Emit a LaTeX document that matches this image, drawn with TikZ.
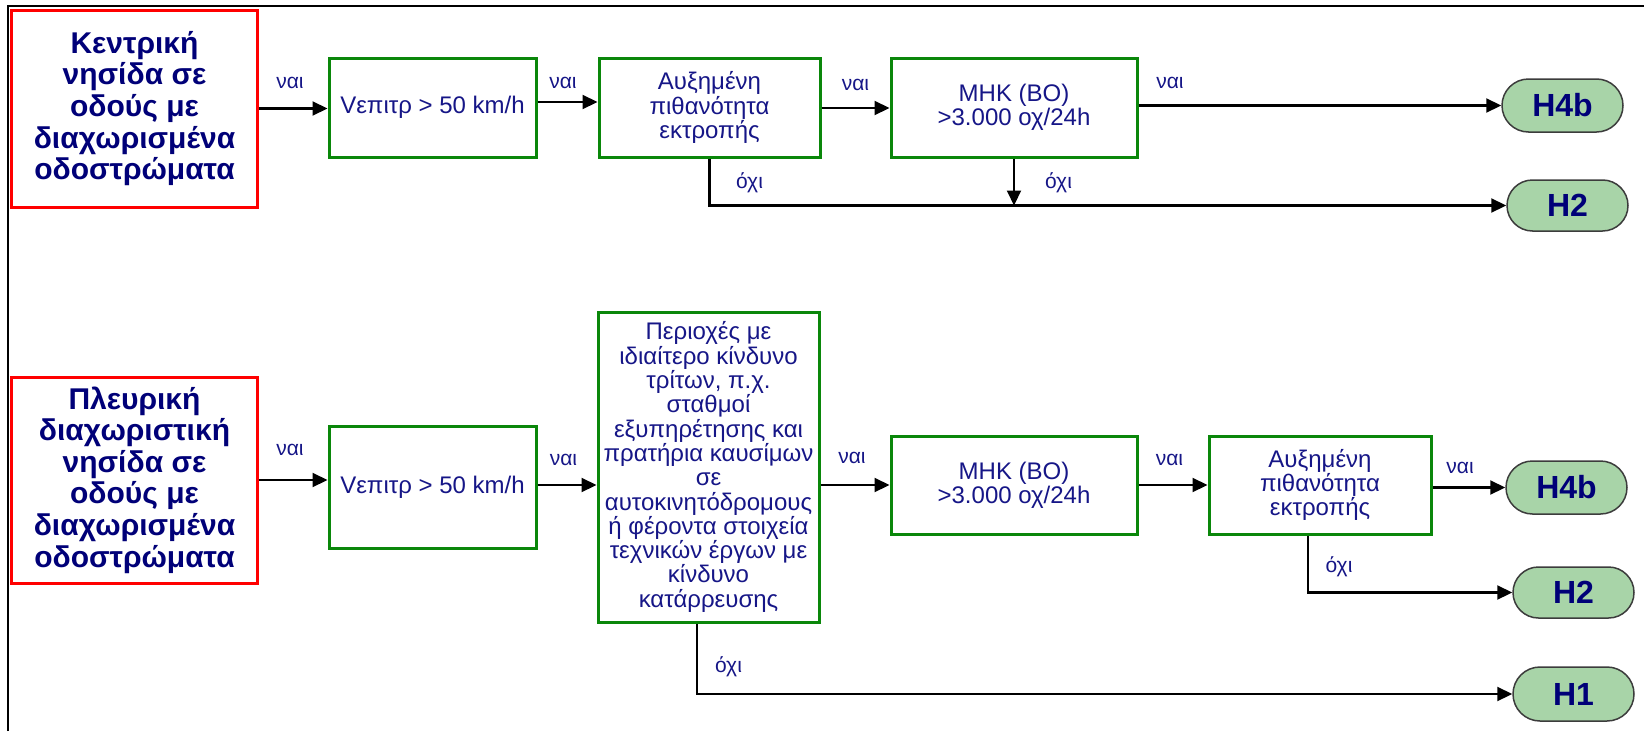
\documentclass[tikz,border=0pt]{standalone}
\usepackage{fontspec}
\setmainfont{Liberation Sans}
\usetikzlibrary{arrows.meta,shapes.misc}

\definecolor{txtblue}{RGB}{22,22,135}
\definecolor{titleblue}{RGB}{0,0,120}
\definecolor{boxgreen}{RGB}{10,135,10}
\definecolor{boxred}{RGB}{255,0,0}
\definecolor{termfill}{RGB}{168,212,168}
\definecolor{termline}{RGB}{60,60,60}

\tikzset{
  titlebox/.style={draw=boxred, line width=3pt, fill=white, inner sep=0pt,
    align=center, text=titleblue,
    font=\fontsize{30pt}{31.6pt}\selectfont\bfseries},
  decbox/.style={draw=boxgreen, line width=3pt, fill=white, inner sep=0pt,
    align=center, text=txtblue, font=\fontsize{24pt}{24.3pt}\selectfont},
  term/.style={rounded rectangle, draw=termline, line width=1.5pt, fill=termfill,
    inner sep=0pt, minimum width=121pt, text=titleblue,
    font=\fontsize{32pt}{34pt}\selectfont\bfseries},
  lbl/.style={inner sep=0pt, text=txtblue, font=\fontsize{21pt}{22pt}\selectfont},
  arr/.style={line width=2.1pt, -{Triangle[length=15pt,width=14pt]}}
}

\begin{document}
\begin{tikzpicture}[x=1pt, y=-1pt]
\useasboundingbox (0,0) rectangle (1644,731);

% page frame (top and left edges)
\draw[line width=2pt] (8,731) -- (8,6) -- (1644,6);

% ---------- upper flow ----------
\node[titlebox, minimum width=245.5pt, minimum height=197pt] (red1) at (134.5,108.5)
  {Κεντρική\\νησίδα σε\\οδούς με\\διαχωρισμένα\\οδοστρώματα};
\node[decbox, minimum width=207pt, minimum height=99pt] (v1) at (432.5,107.5)
  {Vεπιτρ > 50 km/h};
\node[decbox, minimum width=221pt, minimum height=99pt] (aux1) at (709.5,107.5)
  {Αυξημένη\\πιθανότητα\\εκτροπής};
\node[decbox, minimum width=246pt, minimum height=99pt] (mhk1) at (1014,107.5)
  {ΜΗΚ (ΒΟ)\\>3.000 οχ/24h};
\node[term, minimum height=53pt] (h4b1) at (1562.5,105.5) {H4b};
\node[term, minimum height=51pt] (h2a) at (1567.5,205.5) {H2};

\draw[arr] (red1.east) -- (red1.east -| v1.west);
\draw[arr] (v1.east |- 0,102) -- (aux1.west |- 0,102);
\draw[arr] (aux1.east |- 0,108) -- (mhk1.west |- 0,108);
\draw[arr] (mhk1.east |- h4b1.west) -- (h4b1.west);
\draw[arr] (aux1.south) -- (aux1.south |- h2a.west) -- (h2a.west);
\draw[arr] (mhk1.south) -- (mhk1.south |- h2a.west);

\node[lbl] (l1) at (290,83) {ναι};
\node[lbl] (l2) at (563,83) {ναι};
\node[lbl] (l3) at (855.5,85) {ναι};
\node[lbl] (l4) at (1170,83) {ναι};
\node[lbl] (l5) at (749.5,183) {όχι};
\node[lbl] (l6) at (1058.5,183) {όχι};

% ---------- lower flow ----------
\node[titlebox, minimum width=245.5pt, minimum height=206pt] (red2) at (134.5,480)
  {Πλευρική\\διαχωριστική\\νησίδα σε\\οδούς με\\διαχωρισμένα\\οδοστρώματα};
\node[decbox, minimum width=207pt, minimum height=122pt] (v2) at (432.5,487)
  {Vεπιτρ > 50 km/h};
\node[decbox, minimum width=221pt, minimum height=310pt] (pe) at (708.5,467)
  {Περιοχές με\\ιδιαίτερο κίνδυνο\\τρίτων, π.χ.\\σταθμοί\\εξυπηρέτησης και\\πρατήρια καυσίμων\\σε\\αυτοκινητόδρομους\\ή φέροντα στοιχεία\\τεχνικών έργων με\\κίνδυνο\\κατάρρευσης};
\node[decbox, minimum width=246pt, minimum height=98pt] (mhk2) at (1014,485)
  {ΜΗΚ (ΒΟ)\\>3.000 οχ/24h};
\node[decbox, minimum width=222pt, minimum height=98pt] (aux2) at (1320,485)
  {Αυξημένη\\πιθανότητα\\εκτροπής};
\node[term, minimum height=53pt] (h4b2) at (1566.5,487.5) {H4b};
\node[term, minimum height=51pt] (h2b) at (1573.5,592.5) {H2};
\node[term, minimum height=54pt] (h1) at (1573.5,694) {H1};

\draw[arr] (red2.east) -- (red2.east -| v2.west);
\draw[arr] (v2.east |- 0,485) -- (pe.west |- 0,485);
\draw[arr] (pe.east |- mhk2.west) -- (mhk2.west);
\draw[arr] (mhk2.east) -- (aux2.west);
\draw[arr] (aux2.east |- h4b2.west) -- (h4b2.west);
\draw[arr] ([xshift=-12pt]aux2.south) -- ([xshift=-12pt]aux2.south |- h2b.west) -- (h2b.west);
\draw[arr] ([xshift=-11.5pt]pe.south) -- ([xshift=-11.5pt]pe.south |- h1.west) -- (h1.west);

\node[lbl] (m1) at (290,450) {ναι};
\node[lbl] (m2) at (563.5,460) {ναι};
\node[lbl] (m3) at (852,458) {ναι};
\node[lbl] (m4) at (1169.5,460) {ναι};
\node[lbl] (m5) at (1460,468) {ναι};
\node[lbl] (m6) at (728.5,667) {όχι};
\node[lbl] (m7) at (1339,567) {όχι};
\end{tikzpicture}
\end{document}
